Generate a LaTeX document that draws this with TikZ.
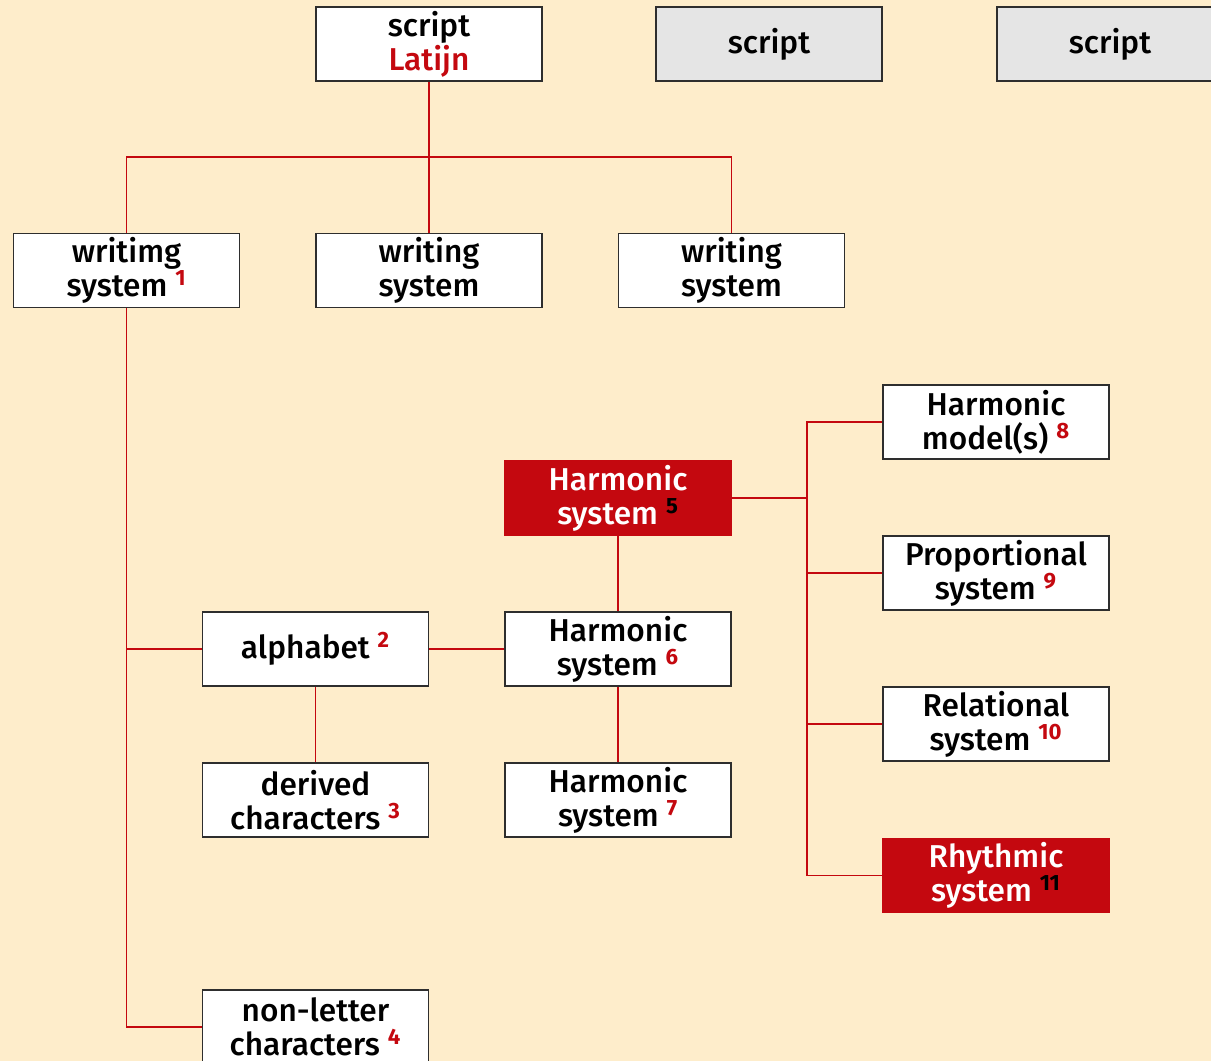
\documentclass[tikz,border=0pt]{standalone}
\usepackage{fontspec}
\setmainfont{Fira Sans}[UprightFont={* Medium}, BoldFont={* Bold}]
\usepackage{xcolor}
\usetikzlibrary{positioning,calc}

\definecolor{paper}{HTML}{FEEDCB}
\definecolor{latred}{HTML}{C4080F}
\definecolor{boxline}{HTML}{2E2E2E}
\definecolor{greybox}{HTML}{E5E5E5}

\newcommand{\refnum}[1]{\ \textsuperscript{\bfseries\color{latred}#1}}
\newcommand{\refnumk}[1]{\ \textsuperscript{\bfseries\color{black}#1}}

\begin{document}
\begin{tikzpicture}[
    x=0.02cm, y=-0.02cm,
    box/.style={draw=boxline, line width=1.1pt, fill=white, font=\fontsize{18}{19.5}\selectfont,
      minimum width=4.52cm, minimum height=1.48cm, inner sep=0pt, align=center},
    greyed/.style={box, fill=greybox},
    hot/.style={box, draw=latred, fill=latred, text=white},
    link/.style={draw=latred, line width=1.1pt},
  ]
    \fill[paper] (0,0) rectangle (1211,1061);
    \useasboundingbox (0,0) rectangle (1211,1061);

    % Scripts
    \node[box] (latin) at (429, 44) {script\\{\color{latred}Latijn}};
    \node[greyed] (scriptb) at (769, 44) {script};
    \node[greyed] (scriptc) at (1110, 44) {script};

    % Writing systems
    \node[box] (ws1) at (126.5, 270.5) {writimg\\system\refnum{1}};
    \node[box] (ws2) at (429, 270.5) {writing\\system};
    \node[box] (ws3) at (731.5, 270.5) {writing\\system};

    % Characters
    \node[box] (alphabet) at (315.5, 649) {alphabet\refnum{2}};
    \node[box] (derived) at (315.5, 800) {derived\\characters\refnum{3}};
    \node[box] (nonletter) at (315.5, 1027) {non-letter\\characters\refnum{4}};

    % Harmonic systems
    \node[hot] (harm5) at (618, 498) {Harmonic\\system\refnumk{5}};
    \node[box] (harm6) at (618, 649) {Harmonic\\system\refnum{6}};
    \node[box] (harm7) at (618, 800) {Harmonic\\system\refnum{7}};

    % Subsystems
    \node[box] (model) at (996, 422) {Harmonic\\model(s)\refnum{8}};
    \node[box] (propsys) at (996, 573) {Proportional\\system\refnum{9}};
    \node[box] (relsys) at (996, 724) {Relational\\system\refnum{10}};
    \node[hot] (rhythm) at (996, 875.5) {Rhythmic\\system\refnumk{11}};

    \coordinate (split) at (429, 157);
    \coordinate (branch) at (807, 498);

    % Lines
    \draw[link] (latin) -- (ws2);
    \draw[link] (ws1) |- (split) -| (ws3);
    \draw[link] (ws1) |- (alphabet);
    \draw[link] (ws1) |- (nonletter);
    \draw[link] (alphabet) -- (derived);
    \draw[link] (alphabet) -- (harm6);
    \draw[link] (harm5) -- (harm6);
    \draw[link] (harm6) -- (harm7);
    \draw[link] (harm5) -- (branch);
    \draw[link] (branch) |- (model);
    \draw[link] (branch) |- (propsys);
    \draw[link] (branch) |- (relsys);
    \draw[link] (branch) |- (rhythm);
  \end{tikzpicture}
\end{document}
